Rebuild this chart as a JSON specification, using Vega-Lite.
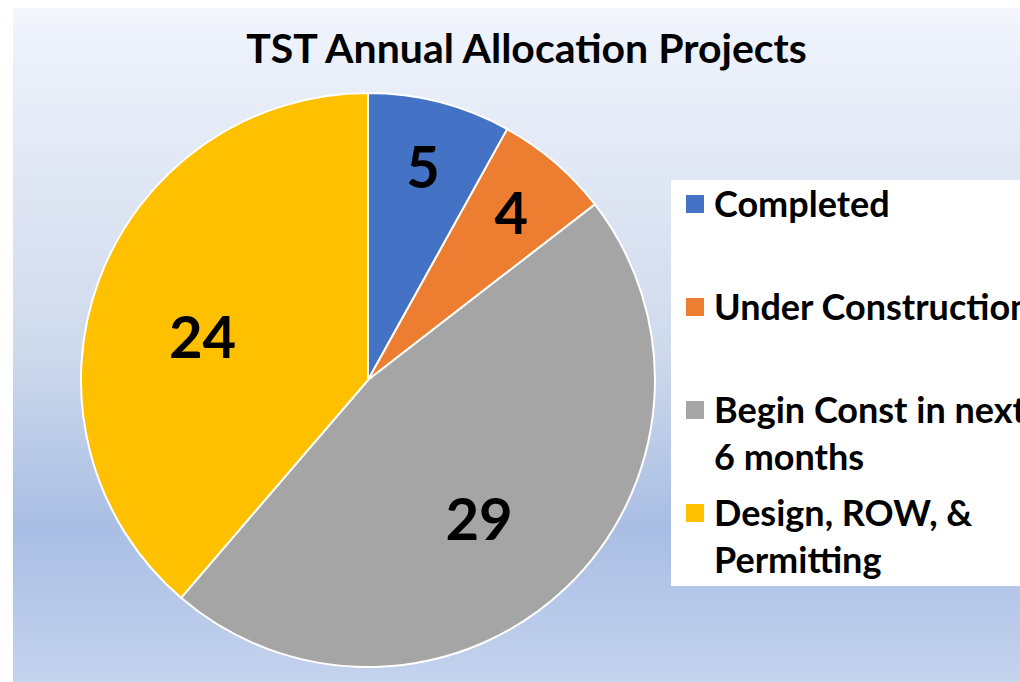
{
  "$schema": "https://vega.github.io/schema/vega-lite/v6.json",
  "width": 1007,
  "height": 674,
  "autosize": {"type": "none"},
  "padding": {"left": 13, "top": 8, "right": 0, "bottom": 0},
  "background": "white",
  "title": {
    "text": "TST Annual Allocation Projects",
    "font": "Lato",
    "fontWeight": "bold",
    "fontSize": 41,
    "color": "black",
    "frame": "group",
    "anchor": "middle",
    "offset": -64,
    "dx": 10
  },
  "data": {
    "values": [
      {"status": "Completed", "count": 5, "i": 1},
      {"status": "Under Construction", "count": 4, "i": 2},
      {"status": "Begin Const in next 6 months", "count": 29, "i": 3},
      {"status": "Design, ROW, & Permitting", "count": 24, "i": 4}
    ]
  },
  "layer": [
    {
      "data": {"values": [{}]},
      "mark": {
        "type": "rect",
        "fill": {
          "gradient": "linear",
          "x1": 0, "y1": 0, "x2": 0, "y2": 1,
          "stops": [
            {"offset": 0, "color": "#F5F7FB"},
            {"offset": 0.04, "color": "#EEF2FB"},
            {"offset": 0.5, "color": "#CFDAEC"},
            {"offset": 0.77, "color": "#A9BEE4"},
            {"offset": 1, "color": "#C4D3EE"}
          ]
        }
      },
      "encoding": {}
    },
    {
      "mark": {
        "type": "arc",
        "outerRadius": 287,
        "stroke": "white",
        "strokeWidth": 2,
        "x": {"expr": "width*0.3525"},
        "y": {"expr": "height*0.552"}
      },
      "encoding": {
        "theta": {"field": "count", "type": "quantitative", "stack": true},
        "order": {"field": "i", "type": "quantitative"},
        "color": {
          "field": "status",
          "type": "nominal",
          "sort": null,
          "scale": {
            "domain": ["Completed", "Under Construction", "Begin Const in next 6 months", "Design, ROW, & Permitting"],
            "range": ["#4472C4", "#ED7D31", "#A5A5A5", "#FFC000"]
          },
          "legend": {
            "title": null,
            "orient": "none",
            "legendX": 658,
            "legendY": 172,
            "fillColor": "white",
            "strokeColor": null,
            "padding": 6,
            "symbolType": "square",
            "symbolSize": 324,
            "symbolStrokeWidth": 0,
            "labelFont": "Lato",
            "labelFontWeight": "bold",
            "labelFontSize": 36,
            "labelColor": "black",
            "labelLimit": 1000,
            "labelOffset": 1,
            "labelBaseline": "alphabetic",
            "rowPadding": 18,
            "gridAlign": "all",
            "labelExpr": "datum.label == 'Begin Const in next 6 months' ? ['Begin Const in next', '6 months'] : datum.label == 'Design, ROW, & Permitting' ? ['Design, ROW, &', 'Permitting'] : datum.label"
          }
        }
      }
    },
    {
      "mark": {
        "type": "text",
        "radius": {"expr": "datum.count < 10 ? 220 : 170"},
        "dy": {"expr": "datum.count < 10 ? 4 : 20"},
        "dx": {"expr": "datum.count < 10 ? 0 : -6"},
        "font": "Lato",
        "fontWeight": "bold",
        "fontSize": 58,
        "color": "black",
        "x": {"expr": "width*0.3525"},
        "y": {"expr": "height*0.552"}
      },
      "encoding": {
        "theta": {"field": "count", "type": "quantitative", "stack": true},
        "order": {"field": "i", "type": "quantitative"},
        "text": {"field": "count", "type": "quantitative"}
      }
    }
  ],
  "config": {
    "view": {"stroke": null},
    "style": {
      "guide-label": {"dy": 13, "lineHeight": 47}
    }
  }
}
